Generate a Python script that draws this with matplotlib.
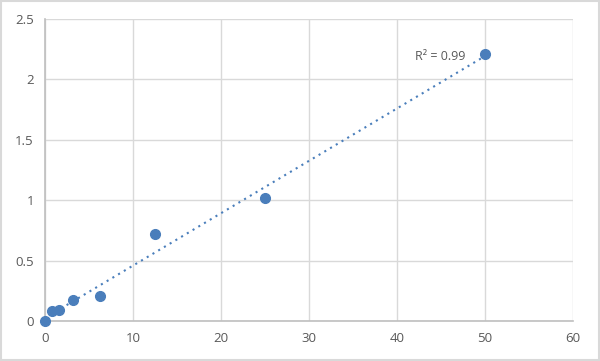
import numpy as np
import matplotlib.pyplot as plt
from matplotlib.patches import Rectangle

# concentraciones y lecturas
conc = [0, 0.78, 1.56, 3.125, 6.25, 12.5, 25, 50]
od = [0.0, 0.08, 0.09, 0.17, 0.21, 0.72, 1.02, 2.21]
xticks = [0, 10, 20, 30, 40, 50, 60]
yticks = [0, 0.5, 1, 1.5, 2, 2.5]
ylabels = ['0', '0.5', '1', '1.5', '2', '2.5']

plt.rcParams['font.family'] = ['Open Sans', 'DejaVu Sans']

fig = plt.figure(figsize=(6, 3.61), dpi=100)
ax = fig.add_axes([0.075, 0.111, 0.88, 0.836])

# recta de ajuste
p = np.polyfit(conc, od, 1)
pred = np.polyval(p, conc)
r2 = 1 - np.sum((np.array(od) - pred) ** 2) / np.sum((np.array(od) - np.mean(od)) ** 2)
xx = np.array([0.5, 50])
ax.plot(xx, np.polyval(p, xx), color='#4a7ebb', lw=1.5, ls=(0, (1, 2.2)), zorder=2)

ax.plot(conc, od, 'o', color='#4a7ebb', ms=7, zorder=3, clip_on=False)

ax.text(42.1, 2.19, 'R² = %.2f' % r2, color='#595959', fontsize=9, va='center')

ax.set_xlim(0, 60)
ax.set_ylim(0, 2.5)
ax.set_xticks(xticks)
ax.set_yticks(yticks)
ax.set_yticklabels(ylabels)
ax.grid(True, color='#d9d9d9', lw=1)
ax.set_axisbelow(True)
for s in ['top', 'right']:
    ax.spines[s].set_visible(False)
for s in ['left', 'bottom']:
    ax.spines[s].set_color('#bfbfbf')
    ax.spines[s].set_linewidth(1.2)
ax.tick_params(length=0, colors='#595959', labelsize=9.5, pad=8)

fig.patches.append(Rectangle((0.002, 0.003), 0.996, 0.994, transform=fig.transFigure,
                             fill=False, edgecolor='#d9d9d9', lw=1.5))

fig.savefig('out.png', dpi=100)
